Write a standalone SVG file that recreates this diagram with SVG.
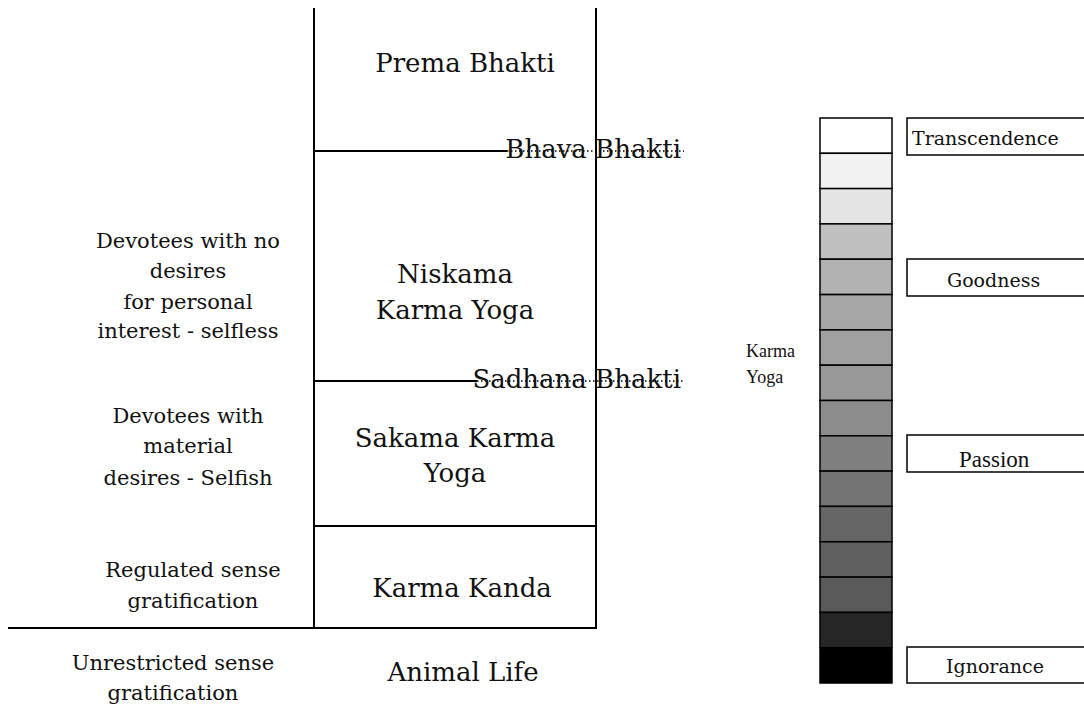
<svg xmlns="http://www.w3.org/2000/svg" width="1084" height="713" viewBox="0 0 1084 713">
<style>
.ln{stroke:#000;stroke-width:2;fill:none}
.dot{stroke:#000;stroke-width:1.5;stroke-dasharray:1.5 2.5;fill:none}
.big{font-family:"DejaVu Serif","Liberation Serif",serif;font-size:26px;fill:#111;text-anchor:middle}
.lbl{font-family:"DejaVu Serif","Liberation Serif",serif;font-size:21px;fill:#111;text-anchor:middle}
.rt{font-family:"DejaVu Serif","Liberation Serif",serif;font-size:19px;fill:#111}
.tm{font-family:"Liberation Serif","Times New Roman",serif;fill:#111}
.cell{stroke:#000;stroke-width:1.5}
.box{fill:#fff;stroke:#000;stroke-width:1.5}
</style>
<rect width="1084" height="713" fill="#fff"/>
<g id="connectors">
<line class="ln" x1="314" y1="8" x2="314" y2="629"/>
<line class="ln" x1="596" y1="8" x2="596" y2="629"/>
<line class="ln" x1="8" y1="628" x2="597" y2="628"/>
<line class="ln" x1="314" y1="526" x2="596" y2="526"/>
<line class="ln" x1="314" y1="151" x2="507" y2="151"/>
<line class="dot" x1="507" y1="151" x2="684" y2="151"/>
<line class="ln" x1="314" y1="381" x2="477" y2="381"/>
<line class="dot" x1="477" y1="381" x2="684" y2="381"/>
</g>
<g id="prema"><text class="big" x="465" y="72">Prema Bhakti</text></g>
<g id="bhava"><text class="big" x="681" y="158" style="text-anchor:end">Bhava Bhakti</text></g>
<g id="niskama"><text class="big" x="455" y="283">Niskama</text><text class="big" x="455" y="319">Karma Yoga</text></g>
<g id="sadhana"><text class="big" x="681" y="388" style="text-anchor:end">Sadhana Bhakti</text></g>
<g id="sakama"><text class="big" x="455" y="447">Sakama Karma</text><text class="big" x="455" y="482">Yoga</text></g>
<g id="kanda"><text class="big" x="462" y="597">Karma Kanda</text></g>
<g id="animal"><text class="big" x="463" y="681">Animal Life</text></g>
<g id="selfless">
<text class="lbl" x="188" y="248">Devotees with no</text>
<text class="lbl" x="188" y="278">desires</text>
<text class="lbl" x="188" y="309">for personal</text>
<text class="lbl" x="188" y="338">interest - selfless</text>
</g>
<g id="selfish">
<text class="lbl" x="188" y="423">Devotees with</text>
<text class="lbl" x="188" y="453">material</text>
<text class="lbl" x="188" y="485">desires - Selfish</text>
</g>
<g id="regulated">
<text class="lbl" x="193" y="577">Regulated sense</text>
<text class="lbl" x="193" y="608">gratification</text>
</g>
<g id="unrestricted">
<text class="lbl" x="173" y="670">Unrestricted sense</text>
<text class="lbl" x="173" y="700">gratification</text>
</g>
<g id="karmayoga">
<text class="tm" x="746" y="357" font-size="18">Karma</text>
<text class="tm" x="746" y="383" font-size="18">Yoga</text>
</g>
<g id="scale">
<rect class="cell" x="820" y="118" width="72" height="35.3" fill="#ffffff"/>
<rect class="cell" x="820" y="153.3" width="72" height="35.3" fill="#f2f2f2"/>
<rect class="cell" x="820" y="188.6" width="72" height="35.3" fill="#e5e5e5"/>
<rect class="cell" x="820" y="223.9" width="72" height="35.3" fill="#bfbfbf"/>
<rect class="cell" x="820" y="259.2" width="72" height="35.3" fill="#b2b2b2"/>
<rect class="cell" x="820" y="294.6" width="72" height="35.3" fill="#a6a6a6"/>
<rect class="cell" x="820" y="329.9" width="72" height="35.3" fill="#a0a0a0"/>
<rect class="cell" x="820" y="365.2" width="72" height="35.3" fill="#999999"/>
<rect class="cell" x="820" y="400.5" width="72" height="35.3" fill="#8c8c8c"/>
<rect class="cell" x="820" y="435.8" width="72" height="35.3" fill="#7f7f7f"/>
<rect class="cell" x="820" y="471.1" width="72" height="35.3" fill="#737373"/>
<rect class="cell" x="820" y="506.4" width="72" height="35.3" fill="#666666"/>
<rect class="cell" x="820" y="541.8" width="72" height="35.3" fill="#5f5f5f"/>
<rect class="cell" x="820" y="577.1" width="72" height="35.3" fill="#595959"/>
<rect class="cell" x="820" y="612.4" width="72" height="35.3" fill="#262626"/>
<rect class="cell" x="820" y="647.7" width="72" height="35.3" fill="#000000"/>
</g>
<g id="transcendence"><rect class="box" x="907" y="118" width="190" height="37"/><text class="rt" x="912" y="145">Transcendence</text></g>
<g id="goodness"><rect class="box" x="907" y="259" width="190" height="37"/><text class="rt" x="947" y="287">Goodness</text></g>
<g id="passion"><rect class="box" x="907" y="435" width="190" height="37"/><text class="tm" x="959" y="467" font-size="23">Passion</text></g>
<g id="ignorance"><rect class="box" x="907" y="647" width="190" height="36"/><text class="rt" x="946" y="673">Ignorance</text></g>
</svg>
